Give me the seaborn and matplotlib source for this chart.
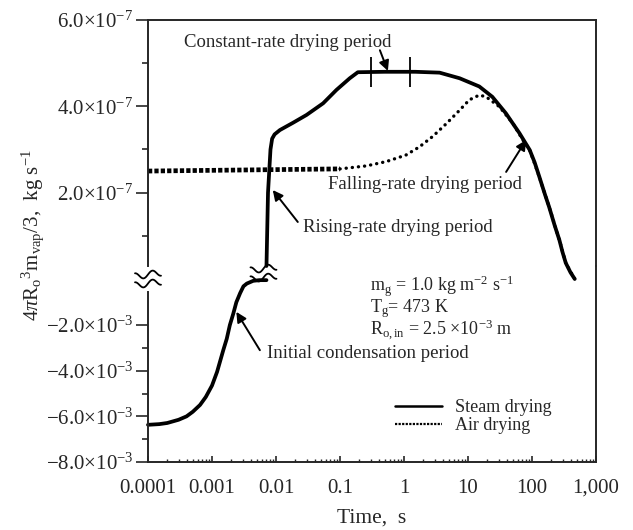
import numpy as np
import pandas as pd
import matplotlib
matplotlib.use("Agg")
import matplotlib.pyplot as plt
import seaborn as sns
from matplotlib.ticker import FixedLocator, FixedFormatter, NullFormatter
from matplotlib.lines import Line2D

# ---------------- data ----------------
# steam drying, initial condensation period (lower panel), kg/s
steam_cond_t = [1e-4, 1.5e-4, 2e-4, 3e-4, 4e-4, 5e-4, 6.5e-4, 8e-4, 1.0e-3, 1.2e-3,
                1.5e-3, 1.7e-3, 1.9e-3, 2.15e-3, 2.4e-3, 2.75e-3, 3.1e-3, 3.5e-3,
                4.4e-3, 5.5e-3, 7.1e-3]
steam_cond_v = [-6.37e-3, -6.34e-3, -6.29e-3, -6.15e-3, -6.0e-3, -5.8e-3, -5.5e-3,
                -5.15e-3, -4.65e-3, -4.05e-3, -3.1e-3, -2.6e-3, -2.0e-3, -1.5e-3,
                -1.0e-3, -0.6e-3, -0.3e-3, -0.18e-3, -0.06e-3, -0.03e-3, -0.03e-3]

# steam drying, evaporation (upper panel)
steam_t = [0.0071, 0.0075, 0.0082, 0.0087, 0.0095, 0.0115, 0.0185, 0.030, 0.0545,
           0.088, 0.142, 0.19, 0.5, 1.5, 3.6, 7.4, 15, 24, 39, 63.5, 92, 110, 130,
           160, 185, 225, 268, 300, 337, 400, 465]
steam_v = [0.30e-7, 2.0e-7, 3.0e-7, 3.25e-7, 3.35e-7, 3.45e-7, 3.62e-7, 3.8e-7,
           4.07e-7, 4.38e-7, 4.65e-7, 4.79e-7, 4.8e-7, 4.8e-7, 4.78e-7, 4.65e-7,
           4.46e-7, 4.22e-7, 3.84e-7, 3.38e-7, 2.99e-7, 2.7e-7, 2.37e-7, 1.95e-7,
           1.67e-7, 1.25e-7, 0.9e-7, 0.62e-7, 0.37e-7, 0.15e-7, 0.0]

# air drying (upper panel)
air_t = [1e-4, 0.1, 0.26, 0.53, 1.07, 1.74, 2.8, 4.6, 7.4, 10.5, 15, 19.2, 31,
         50.5, 72, 92, 130, 185, 268, 337, 465]
air_v = [2.5e-7, 2.55e-7, 2.62e-7, 2.72e-7, 2.87e-7, 3.06e-7, 3.3e-7, 3.6e-7,
         3.91e-7, 4.15e-7, 4.26e-7, 4.22e-7, 3.99e-7, 3.6e-7, 3.22e-7, 2.99e-7,
         2.37e-7, 1.67e-7, 0.9e-7, 0.37e-7, 0.0]

# constant-rate period markers
const_marks_t = [0.30, 1.23]
const_level = 4.8e-7

x_ticks = [1e-4, 1e-3, 1e-2, 1e-1, 1, 10, 100, 1000]
x_labels = ["0.0001", "0.001", "0.01", "0.1", "1", "10", "100", "1,000"]
up_ticks = [2e-7, 4e-7, 6e-7]
up_labels = [r"2.0×10$^{-7}$", r"4.0×10$^{-7}$", r"6.0×10$^{-7}$"]
up_minor = [1e-7, 3e-7, 5e-7]
low_ticks = [-8e-3, -6e-3, -4e-3, -2e-3]
low_labels = [r"−8.0×10$^{-3}$", r"−6.0×10$^{-3}$", r"−4.0×10$^{-3}$", r"−2.0×10$^{-3}$"]
low_minor = [-7e-3, -5e-3, -3e-3]

# ---------------- style ----------------
sns.set_theme(style="ticks")
plt.rcParams["font.family"] = ["Liberation Serif", "DejaVu Serif"]
plt.rcParams["mathtext.fontset"] = "custom"
plt.rcParams["mathtext.rm"] = "Liberation Serif"
plt.rcParams["mathtext.it"] = "Liberation Serif:italic"
plt.rcParams["mathtext.bf"] = "Liberation Serif:bold"
plt.rcParams["axes.linewidth"] = 1.4

W, H = 633, 530
fig = plt.figure(figsize=(W / 100, H / 100), dpi=100)
L, R = 148, 596
ax_lo = fig.add_axes([L / W, 1 - 462 / H, (R - L) / W, (462 - 266) / H])
ax_up = fig.add_axes([L / W, 1 - 266 / H, (R - L) / W, (266 - 20) / H], sharex=ax_lo)

for ax in (ax_up, ax_lo):
    ax.set_xscale("log")
    ax.set_facecolor("none")
ax_up.set_xlim(1e-4, 1e3)
ax_up.set_ylim(0.30e-7, 6e-7)
ax_lo.set_ylim(-8e-3, 0.59e-3)

# ---------------- lines ----------------
lw = 2.7
sns.lineplot(x=steam_cond_t, y=steam_cond_v, ax=ax_lo, color="black", lw=lw,
             estimator=None, sort=False, clip_on=False, legend=False)
sns.lineplot(x=steam_t, y=steam_v, ax=ax_up, color="black", lw=lw,
             estimator=None, sort=False, clip_on=False, legend=False)

air_df = pd.DataFrame({"t": air_t, "v": air_v})
flat = air_df[air_df["t"] <= 0.1]
rise = air_df[air_df["t"] >= 0.1]
sns.lineplot(data=flat, x="t", y="v", ax=ax_up, color="black", lw=3.4,
             linestyle=(0, (0.9, 0.45)), estimator=None, sort=False, legend=False)
sns.lineplot(data=rise, x="t", y="v", ax=ax_up, color="black", lw=2.4,
             linestyle=(0, (0.05, 1.8)), dash_capstyle="round",
             estimator=None, sort=False, clip_on=False, legend=False)

ax_up.vlines(const_marks_t, const_level - 0.35e-7, const_level + 0.35e-7,
             color="black", lw=1.3)

# ---------------- axes styling ----------------
ax_up.spines["bottom"].set_visible(False)
ax_lo.spines["top"].set_visible(False)
ax_lo.spines["left"].set_bounds(-8e-3, -0.55e-3)
for sp in list(ax_up.spines.values()) + list(ax_lo.spines.values()):
    sp.set_linewidth(1.4)

ax_up.tick_params(axis="x", which="both", bottom=False, top=False, labelbottom=False)
ax_lo.xaxis.set_major_locator(FixedLocator(x_ticks))
ax_lo.xaxis.set_major_formatter(FixedFormatter(x_labels))
minor_x = [m * 10.0 ** e for e in range(-4, 3) for m in range(2, 10)]
ax_lo.xaxis.set_minor_locator(FixedLocator(minor_x))
ax_lo.xaxis.set_minor_formatter(NullFormatter())
ax_lo.tick_params(axis="x", which="major", direction="in", length=4.5, width=1.2,
                  pad=12, labelsize=15, top=False)
ax_lo.tick_params(axis="x", which="minor", direction="in", length=2.5, width=1.0, top=False)

ax_up.yaxis.set_major_locator(FixedLocator(up_ticks))
ax_up.yaxis.set_major_formatter(FixedFormatter(up_labels))
ax_up.yaxis.set_minor_locator(FixedLocator(up_minor))
ax_lo.yaxis.set_major_locator(FixedLocator(low_ticks))
ax_lo.yaxis.set_major_formatter(FixedFormatter(low_labels))
ax_lo.yaxis.set_minor_locator(FixedLocator(low_minor))
for ax in (ax_up, ax_lo):
    ax.tick_params(axis="y", which="major", direction="out", length=9, width=1.2,
                   pad=1.5, labelsize=15, right=False)
    ax.tick_params(axis="y", which="minor", direction="out", length=4, width=1.2, right=False)
    ax.set_ylabel("")
    ax.set_xlabel("")

fig.text(((L + R) / 2) / W, 1 - 518 / H, "Time,  s", ha="center", va="center", fontsize=15.5)
fig.text(33 / W, 1 - 235 / H,
         r"4$\it{\pi}$R$_\mathrm{o}$$^{3}$m$_\mathrm{vap}$/3,  kg s$^{-1}$",
         rotation=90, ha="center", va="center", fontsize=15)

# ---------------- annotations ----------------
fs = 13.5
ax_up.text(0.01528, 5.49e-7, "Constant-rate drying period", ha="center", va="center", fontsize=fs)
ax_up.text(0.0262, 1.2e-7, "Rising-rate drying period", ha="left", va="center", fontsize=fs)
ax_up.text(0.0647, 2.18e-7, "Falling-rate drying period", ha="left", va="center", fontsize=fs)
ax_lo.text(0.00711, -3.24e-3, "Initial condensation period", ha="left", va="center", fontsize=fs)

arrow = dict(arrowstyle="-|>", color="black", lw=1.4, mutation_scale=15,
             shrinkA=0, shrinkB=0)
ax_up.annotate("", xy=(0.56, 4.82e-7), xytext=(0.42, 5.3e-7), arrowprops=arrow)
ax_up.annotate("", xy=(0.0089, 2.06e-7), xytext=(0.0219, 1.32e-7), arrowprops=arrow)
ax_up.annotate("", xy=(81, 3.22e-7), xytext=(39.4, 2.48e-7), arrowprops=arrow)
ax_lo.annotate("", xy=(0.0024, -1.42e-3), xytext=(0.0056, -3.1e-3), arrowprops=arrow)

params = (r"m$_\mathrm{g}$ = 1.0 kg m$^{-2}$ s$^{-1}$" + "\n"
          + r"T$_\mathrm{g}$= 473 K" + "\n"
          + r"R$_\mathrm{o,in}$ = 2.5 ×10$^{-3}$ m")
fig.text(370 / W, 1 - 308 / H, params, va="center", ha="left", fontsize=13,
         linespacing=0.88)

handles = [Line2D([], [], color="black", lw=1.8),
           Line2D([], [], color="black", lw=1.6, linestyle=(0, (1, 0.6)))]
fig.legend(handles, ["Steam drying", "Air drying"], loc="center left",
           bbox_to_anchor=(395 / W, 1 - 416.5 / H), frameon=False, fontsize=13,
           handlelength=2.6, handletextpad=0.7, labelspacing=0.05,
           borderpad=0, borderaxespad=0)

# ---------------- break marks ----------------
inv = fig.transFigure.inverted()


def squiggle(cx, cy):
    s = np.linspace(-1, 1, 40)
    for off in (-4.5, 4.5):
        xs = cx + 13 * s
        ys = cy + off + 3.2 * np.sin(1.5 * np.pi * s) + 2.0 * s
        pts = inv.transform(np.column_stack([xs, ys]))
        fig.add_artist(Line2D(pts[:, 0], pts[:, 1], color="black", lw=1.3,
                              transform=fig.transFigure))


y_top_bottom = ax_up.transAxes.transform((0, 0))[1]
y_low_start = ax_lo.transData.transform((1e-4, -0.55e-3))[1]
axis_x = ax_lo.transAxes.transform((0, 0))[0]
squiggle(axis_x, (y_top_bottom + y_low_start) / 2)
brk_x = ax_lo.transData.transform((steam_cond_t[-1], 0))[0]
brk_y = (y_top_bottom + ax_lo.transData.transform((1e-4, steam_cond_v[-1]))[1]) / 2
squiggle(brk_x - 3, brk_y)

fig.savefig("out.png", dpi=100, facecolor="white")
